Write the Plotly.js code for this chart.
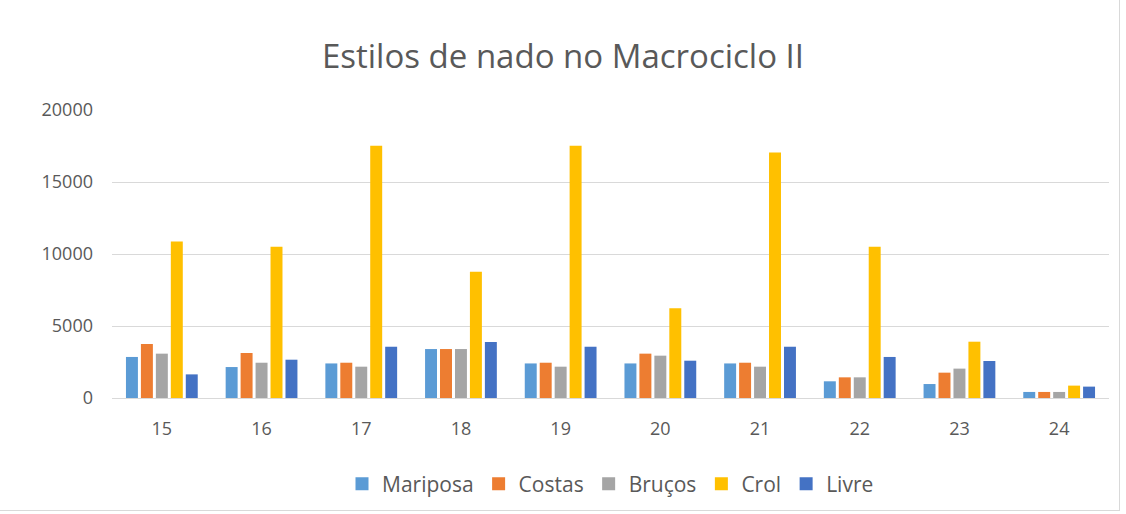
<!DOCTYPE html>
<html>
<head>
<meta charset="utf-8">
<script src="https://cdn.plot.ly/plotly-3.0.1.min.js"></script>
<style>
html,body{margin:0;padding:0;background:#fff;}
#frame{position:absolute;left:0;top:0;width:1119px;height:510px;border:1px solid #d9d9d9;border-left:none;border-top:none;}
#chart{position:absolute;left:0;top:0;width:1126px;height:514px;}
</style>
</head>
<body>
<div id="frame"></div>
<div id="chart"></div>
<script>
const categories = ['15','16','17','18','19','20','21','22','23','24'];
const mariposa = [2850, 2150, 2400, 3400, 2400, 2400, 2400, 1160, 970, 420];
const costas   = [3750, 3125, 2450, 3400, 2450, 3080, 2450, 1435, 1760, 420];
const brucos   = [3080, 2450, 2175, 3400, 2175, 2940, 2175, 1435, 2040, 420];
const crol     = [10860, 10500, 17520, 8770, 17520, 6230, 17040, 10500, 3910, 860];
const livre    = [1640, 2660, 3560, 3890, 3560, 2590, 3560, 2850, 2570, 790];
const seriesNames = ['Mariposa','Costas','Bruços','Crol','Livre'];
const yTicks = [0, 5000, 10000, 15000, 20000];

const colors = ['#5b9bd5','#ed7d31','#a5a5a5','#ffc000','#4472c4'];
const series = [mariposa, costas, brucos, crol, livre];
const data = series.map((v,i)=>({
  type:'bar', x:categories, y:v, name:seriesNames[i], showlegend:false,
  marker:{color:colors[i], line:{width:0}}
}));
// legend entries with square swatches
series.forEach((v,i)=>data.push({
  type:'scatter', mode:'markers', x:[null], y:[null], name:seriesNames[i],
  marker:{symbol:'square', size:13, color:colors[i]}, showlegend:true
}));
const font = "'Open Sans', sans-serif";
const layout = {
  width:1126, height:514,
  paper_bgcolor:'rgba(0,0,0,0)', plot_bgcolor:'rgba(0,0,0,0)',
  margin:{l:112, r:17, t:110, b:116, autoexpand:false},
  title:{text:'Estilos de nado no Macrociclo II', font:{family:font, size:33, color:'#595959'}, x:0.5, xanchor:'center', y:0.89, yanchor:'middle'},
  barmode:'group', bargap:0.25, bargroupgap:0.2,
  xaxis:{type:'category', categoryarray:categories, showgrid:false, showline:true, linecolor:'#d9d9d9', linewidth:1, ticks:'', ticklabelstandoff:14, tickfont:{family:font, size:18, color:'#595959'}, fixedrange:true, automargin:false},
  yaxis:{range:[0,20000], tickvals:yTicks, ticktext:yTicks.map(String), showgrid:true, gridcolor:'#d9d9d9', gridwidth:1, zeroline:false, showline:false, ticks:'', ticklabelstandoff:18, tickfont:{family:font, size:18, color:'#595959'}, automargin:false},
  legend:{orientation:'h', x:0.5, xanchor:'center', yref:'container', y:0.058, yanchor:'middle', font:{family:font, size:21, color:'#595959'}, traceorder:'normal', itemwidth:30},
  showlegend:true
};
Plotly.newPlot('chart', data, layout, {displayModeBar:false, staticPlot:true});
</script>
</body>
</html>
